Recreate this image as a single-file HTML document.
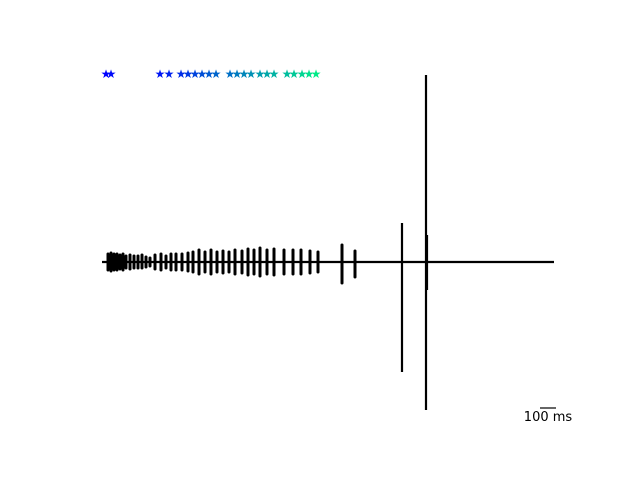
<!DOCTYPE html>
<html><head><meta charset="utf-8"><style>body{margin:0;background:#fff}svg{display:block}</style></head>
<body>
<svg id="chart" width="640" height="480" viewBox="0 0 640 480">
<rect width="640" height="480" fill="#fff"/>
<g id="stars"></g>
<g id="trace"></g>
<line x1="540" y1="408" x2="556" y2="408" stroke="#000" stroke-width="1.2"/>
<text x="548" y="421" font-family="DejaVu Sans, Liberation Sans, sans-serif" font-size="13" text-anchor="middle">100 ms</text>
</svg>
<script>
// event times (ms from trace start)
const starTimes = [4,9,58,67,79,86,93,100,107,114,128,135,142,149,158,165,172,185,192,200,207,214];
// bursts: time (ms), positive amp, negative amp (arbitrary units)
const burstTimes = [6,9,12,15,18,21,24,28,32,36,40,44,48,53,59,64,69,74,80,86,91,97,103,109,115,121,127,133,140,146,152,158,165,172,182,191,199,208,216,240,253];
const burstUp =   [8,9,8,8,7,8,6,7,6,6,7,5,4,7,8,6,8,8,8,9,10,12,10,12,10,11,10,12,11,13,12,14,12,13,12,12,12,11,10,17,11];
const burstDown = [8,9,8,8,7,8,6,7,6,6,6,5,4,7,8,6,8,8,8,9,10,12,10,12,10,11,10,12,11,13,12,14,12,13,12,12,12,11,10,21,15];
// large spikes
const spikeTimes = [300,324,325];
const spikeUp = [39,187,27];
const spikeDown = [110,148,28];
const NS='http://www.w3.org/2000/svg';
const x = t => 102 + t*1.0;
const y0 = 262;
const st = document.getElementById('stars');
starTimes.forEach((t,i)=>{
  const f = i/(starTimes.length-1);
  const c = `rgb(0,${Math.round(f*235)},${Math.round(255-f*120)})`;
  const e = document.createElementNS(NS,'text');
  
  
  e.setAttribute('x', x(t)); e.setAttribute('y', 78);
  e.setAttribute('text-anchor','middle'); e.setAttribute('font-size','12');
  e.setAttribute('fill', c); e.setAttribute('font-family','DejaVu Sans, sans-serif');
  e.textContent='★'; st.appendChild(e);
});
const tr = document.getElementById('trace');
const base = document.createElementNS(NS,'line');


base.setAttribute('x1',x(0));base.setAttribute('x2',x(452));base.setAttribute('y1',y0);base.setAttribute('y2',y0);
base.setAttribute('stroke','#000');base.setAttribute('stroke-width','2.2');tr.appendChild(base);
burstTimes.forEach((t,i)=>{
  const e = document.createElementNS(NS,'line');
  
  
  e.setAttribute('x1',x(t));e.setAttribute('x2',x(t));
  e.setAttribute('y1',y0-burstUp[i]);e.setAttribute('y2',y0+burstDown[i]);
  e.setAttribute('stroke','#000');e.setAttribute('stroke-width','3');e.setAttribute('stroke-linecap','round');
  tr.appendChild(e);
});
spikeTimes.forEach((t,i)=>{
  const e = document.createElementNS(NS,'line');
  
  
  e.setAttribute('x1',x(t));e.setAttribute('x2',x(t));
  e.setAttribute('y1',y0-spikeUp[i]);e.setAttribute('y2',y0+spikeDown[i]);
  e.setAttribute('stroke','#000');e.setAttribute('stroke-width','2.2');
  tr.appendChild(e);
});
</script>
</body></html>
